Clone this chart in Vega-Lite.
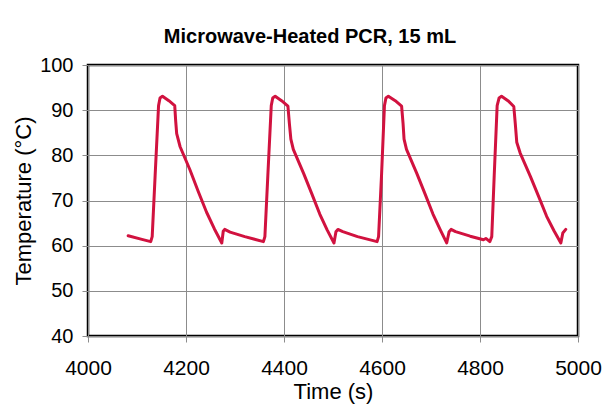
{
  "$schema": "https://vega.github.io/schema/vega-lite/v6.json",
  "width": 490,
  "height": 271,
  "autosize": "none",
  "padding": {"left": 88, "top": 65, "right": 27, "bottom": 72},
  "background": "white",
  "title": {
    "text": "Microwave-Heated PCR, 15 mL",
    "font": "Liberation Sans",
    "fontSize": 20,
    "fontWeight": "bold",
    "color": "black",
    "anchor": "middle",
    "dx": -23,
    "dy": 21,
    "baseline": "alphabetic",
    "offset": 13
  },
  "config": {
    "view": {"stroke": "black", "strokeWidth": 2.5},
    "axis": {
      "labelFont": "Liberation Sans",
      "titleFont": "Liberation Sans",
      "labelFontSize": 20,
      "titleFontSize": 22,
      "titleFontWeight": "normal",
      "labelColor": "black",
      "titleColor": "black",
      "domain": false,
      "grid": true,
      "gridColor": "#8c8c8c",
      "gridWidth": 1,
      "gridOpacity": 1,
      "tickColor": "#8c8c8c",
      "tickSize": 6,
      "tickWidth": 1
    }
  },
  "data": {
    "values": [
      {"t": 4082, "temp": 62.2},
      {"t": 4110, "temp": 61.4},
      {"t": 4128, "temp": 60.9},
      {"t": 4131, "temp": 62.0},
      {"t": 4137, "temp": 75.5},
      {"t": 4144, "temp": 91.0},
      {"t": 4147, "temp": 92.7},
      {"t": 4152, "temp": 93.1},
      {"t": 4165, "temp": 92.1},
      {"t": 4177, "temp": 91.0},
      {"t": 4179, "temp": 87.5},
      {"t": 4181, "temp": 84.8},
      {"t": 4188, "temp": 81.9},
      {"t": 4208, "temp": 76.8},
      {"t": 4225, "temp": 72.0},
      {"t": 4242, "temp": 67.4},
      {"t": 4258, "temp": 63.7},
      {"t": 4273, "temp": 60.6},
      {"t": 4276, "temp": 63.2},
      {"t": 4279, "temp": 63.6},
      {"t": 4290, "temp": 63.0},
      {"t": 4320, "temp": 62.0},
      {"t": 4358, "temp": 60.9},
      {"t": 4361, "temp": 62.0},
      {"t": 4367, "temp": 75.5},
      {"t": 4374, "temp": 91.0},
      {"t": 4377, "temp": 92.7},
      {"t": 4382, "temp": 93.1},
      {"t": 4395, "temp": 92.1},
      {"t": 4408, "temp": 90.9},
      {"t": 4411, "temp": 87.0},
      {"t": 4414, "temp": 83.6},
      {"t": 4419, "temp": 81.3},
      {"t": 4440, "temp": 76.0},
      {"t": 4457, "temp": 71.4},
      {"t": 4473, "temp": 67.0},
      {"t": 4488, "temp": 63.5},
      {"t": 4502, "temp": 60.6},
      {"t": 4506, "temp": 63.1},
      {"t": 4510, "temp": 63.6},
      {"t": 4520, "temp": 63.1},
      {"t": 4550, "temp": 62.0},
      {"t": 4590, "temp": 60.9},
      {"t": 4593, "temp": 62.0},
      {"t": 4599, "temp": 75.5},
      {"t": 4605, "temp": 91.0},
      {"t": 4608, "temp": 92.7},
      {"t": 4613, "temp": 93.1},
      {"t": 4627, "temp": 92.1},
      {"t": 4640, "temp": 90.9},
      {"t": 4643, "temp": 87.0},
      {"t": 4645, "temp": 83.6},
      {"t": 4650, "temp": 81.3},
      {"t": 4671, "temp": 76.0},
      {"t": 4688, "temp": 71.4},
      {"t": 4704, "temp": 67.0},
      {"t": 4719, "temp": 63.5},
      {"t": 4732, "temp": 60.6},
      {"t": 4737, "temp": 63.1},
      {"t": 4741, "temp": 63.6},
      {"t": 4750, "temp": 63.1},
      {"t": 4780, "temp": 62.1},
      {"t": 4807, "temp": 61.3},
      {"t": 4812, "temp": 61.6},
      {"t": 4820, "temp": 60.9},
      {"t": 4824, "temp": 62.0},
      {"t": 4829, "temp": 75.5},
      {"t": 4835, "temp": 91.0},
      {"t": 4839, "temp": 92.7},
      {"t": 4844, "temp": 93.1},
      {"t": 4857, "temp": 92.1},
      {"t": 4869, "temp": 90.8},
      {"t": 4872, "temp": 87.0},
      {"t": 4875, "temp": 82.9},
      {"t": 4882, "temp": 80.5},
      {"t": 4903, "temp": 75.3},
      {"t": 4920, "temp": 70.8},
      {"t": 4936, "temp": 66.5},
      {"t": 4951, "temp": 63.3},
      {"t": 4965, "temp": 60.6},
      {"t": 4969, "temp": 62.8},
      {"t": 4975, "temp": 63.6}
    ]
  },
  "mark": {"type": "line", "color": "#d1123f", "strokeWidth": 3, "strokeJoin": "round", "strokeCap": "round"},
  "encoding": {
    "x": {
      "field": "t",
      "type": "quantitative",
      "scale": {"domain": [4000, 5000], "nice": false, "zero": false},
      "axis": {"values": [4000, 4200, 4400, 4600, 4800, 5000], "format": "d", "title": "Time (s)", "labelFontSize": 21, "labelPadding": 15, "titlePadding": 3, "labelFlush": false}
    },
    "y": {
      "field": "temp",
      "type": "quantitative",
      "scale": {"domain": [40, 100], "nice": false, "zero": false},
      "axis": {"values": [40, 50, 60, 70, 80, 90, 100], "title": "Temperature (°C)", "labelPadding": 9, "titlePadding": 4}
    }
  }
}
